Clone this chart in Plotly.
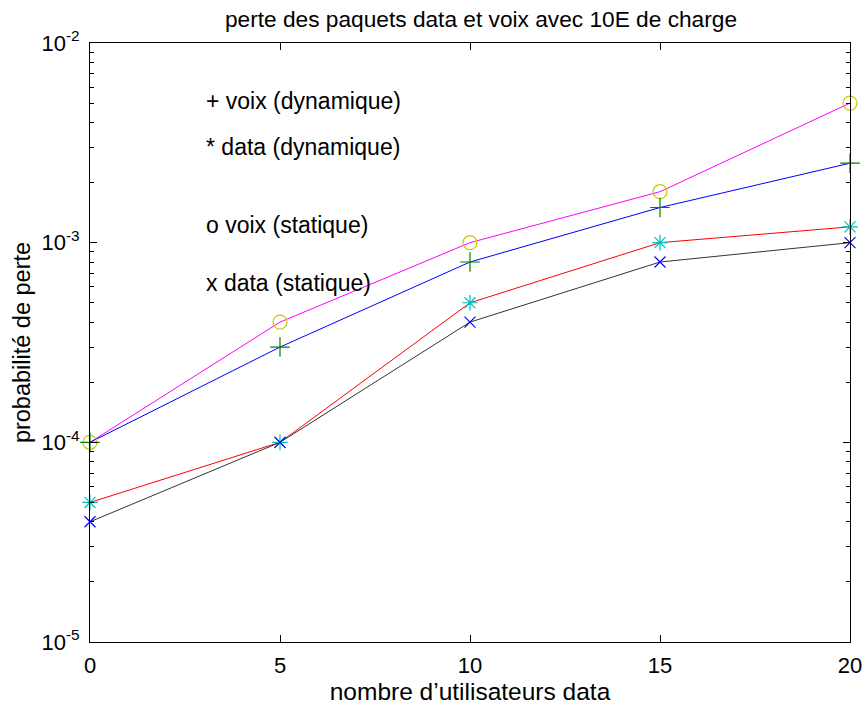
import math
import plotly.graph_objects as go

x_users = [0, 5, 10, 15, 20]
voix_statique = [1e-4, 4e-4, 1e-3, 1.8e-3, 5e-3]
voix_dynamique = [1e-4, 3e-4, 8e-4, 1.5e-3, 2.5e-3]
data_dynamique = [5e-5, 1e-4, 5e-4, 1e-3, 1.2e-3]
data_statique = [4e-5, 1e-4, 4e-4, 8e-4, 1e-3]

ytick_vals = [1e-5, 1e-4, 1e-3, 1e-2]
ytick_text = ["10<sup>-5</sup>", "10<sup>-4</sup>", "10<sup>-3</sup>", "10<sup>-2</sup>"]
xtick_vals = [0, 5, 10, 15, 20]

labels = ["+ voix (dynamique)", "* data (dynamique)", "o voix (statique)", "x data (statique)"]
label_x = [3, 3, 3, 3]
label_y = [5.1e-3, 3e-3, 1.22e-3, 6.3e-4]

minor_vals = [m * 10 ** e for e in (-5, -4, -3) for m in range(2, 10)]

FONT = "Liberation Sans, Arial, sans-serif"

fig = go.Figure()

series = [
    (voix_statique, "#ff00ff", "circle-open", "#c8c800", 14),
    (voix_dynamique, "#0000ff", "cross-thin-open", "#008000", 14),
    (data_dynamique, "#ff0000", "asterisk-open", "#00c0c0", 13),
    (data_statique, "#333333", "x-thin-open", "#0000ff", 11),
]
for ys, lc, sym, mc, ms in series:
    fig.add_trace(go.Scatter(x=x_users, y=ys, mode="lines",
                             line=dict(color=lc, width=1), showlegend=False,
                             cliponaxis=False))
for ys, lc, sym, mc, ms in series:
    fig.add_trace(go.Scatter(x=x_users, y=ys, mode="markers",
                             marker=dict(symbol=sym, size=ms, color=mc,
                                         line=dict(color=mc, width=1.2)),
                             showlegend=False, cliponaxis=False))

for t, xx, yy in zip(labels, label_x, label_y):
    fig.add_annotation(x=xx, y=math.log10(yy), yref="y", xref="x", text=t,
                       showarrow=False, xanchor="left", yanchor="middle",
                       font=dict(family=FONT, size=23, color="black"))

fig.update_layout(
    width=867, height=709,
    margin=dict(l=90, r=17, t=43, b=67),
    paper_bgcolor="white", plot_bgcolor="white",
    font=dict(family=FONT, size=22, color="black"),
    title=dict(text="perte des paquets data et voix avec 10E de charge",
               x=481 / 867, xanchor="center", y=1 - 19 / 709, yanchor="middle",
               automargin=False,
               font=dict(family=FONT, size=22.7)),
)
fig.update_xaxes(range=[0, 20], tickvals=xtick_vals, ticks="inside", ticklen=7,
                 tickcolor="black", showline=True, linecolor="black", linewidth=1,
                 mirror="ticks", showgrid=False, zeroline=False, automargin=False,
                 ticklabelstandoff=4,
                 title=dict(text="nombre d’utilisateurs data", standoff=3,
                            font=dict(family=FONT, size=24.5)),
                 tickfont=dict(family=FONT, size=22))
fig.update_yaxes(type="log", range=[-5, -2], tickvals=ytick_vals, ticktext=ytick_text,
                 ticks="inside", ticklen=7, tickcolor="black", showline=True,
                 linecolor="black", linewidth=1, mirror="ticks", showgrid=False,
                 zeroline=False, automargin=False, ticklabelstandoff=5,
                 minor=dict(tickvals=minor_vals, ticks="inside", ticklen=4,
                            tickcolor="black", showgrid=False),
                 title=dict(text="probabilité de perte", standoff=4,
                            font=dict(family=FONT, size=23.5)),
                 tickfont=dict(family=FONT, size=22))

fig.write_html("out.html", post_script="document.body.style.margin='0';",
               config={"displayModeBar": False})
